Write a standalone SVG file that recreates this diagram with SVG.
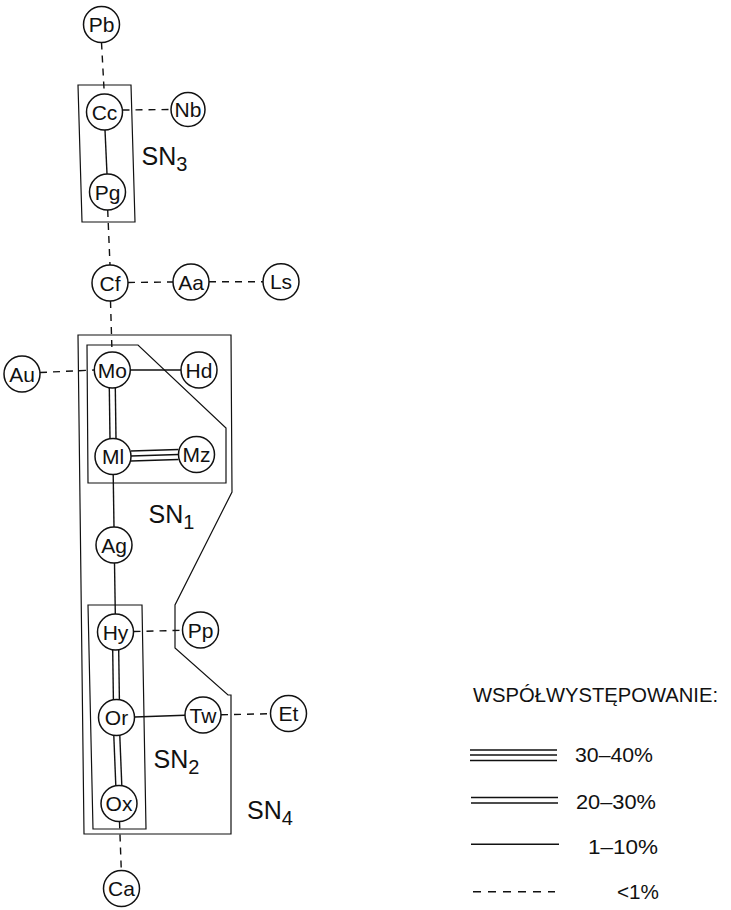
<svg xmlns="http://www.w3.org/2000/svg" width="731" height="910" viewBox="0 0 731 910">
<style>
.n circle{fill:#fff;stroke:#111;stroke-width:1.5}
.n text{font-family:"Liberation Sans",Arial,sans-serif;font-size:21px;text-anchor:middle;fill:#111}
.s{stroke:#111;stroke-width:1.4;fill:none}
.d{stroke:#111;stroke-width:1.4;fill:none;stroke-dasharray:7 6}
.b{stroke:#111;stroke-width:1.2;fill:none}
.lbl{font-family:"Liberation Sans",Arial,sans-serif;font-size:25px;fill:#111}
.lg{font-family:"Liberation Sans",Arial,sans-serif;font-size:20px;fill:#111}
</style>
<rect width="731" height="910" fill="#fff"/>
<g id="groups">
<polygon id="SN3-box" class="b" points="78,85 131,85 135,222 82,222"/>
<polygon id="SN4-box" class="b" points="78,335 231,335 232,492 175,605 175,648 228,695 231,695 231,834 84,834"/>
<polygon id="SN1-box" class="b" points="87,345 138,345 226,428 226,483 88,483"/>
<polygon id="SN2-box" class="b" points="88,605 142,605 146,829 93,829"/>
</g>
<g id="connectors">
<line class="d" x1="101.5" y1="42.5" x2="104.3" y2="94"/>
<line class="d" x1="122.5" y1="110" x2="170" y2="109.5"/>
<line class="s" x1="105" y1="130" x2="107" y2="174"/>
<line class="d" x1="107.7" y1="210" x2="110" y2="265"/>
<line class="d" x1="128" y1="282.5" x2="173" y2="282"/>
<line class="d" x1="209" y1="281.7" x2="263" y2="281.7"/>
<line class="d" x1="110.5" y1="301" x2="112" y2="352"/>
<line class="d" x1="40" y1="372.5" x2="94" y2="370"/>
<line class="s" x1="130.3" y1="370" x2="181" y2="370"/>
<line class="s" x1="109.3" y1="387.5" x2="110" y2="439"/>
<line class="s" x1="115.3" y1="387.5" x2="116" y2="439"/>
<line class="s" x1="131" y1="451" x2="178.5" y2="449.5"/>
<line class="s" x1="131" y1="456" x2="178.5" y2="454.5"/>
<line class="s" x1="131" y1="461" x2="178.5" y2="459.5"/>
<line class="s" x1="113.2" y1="474.5" x2="114" y2="527"/>
<line class="s" x1="114.5" y1="563" x2="115.3" y2="614"/>
<line class="d" x1="133.5" y1="631.5" x2="182.5" y2="630.3"/>
<line class="s" x1="112.7" y1="650" x2="113.4" y2="699.5"/>
<line class="s" x1="118.7" y1="650" x2="119.4" y2="699.5"/>
<line class="s" x1="134.5" y1="717" x2="185" y2="715.2"/>
<line class="d" x1="221" y1="714.8" x2="270.5" y2="713.7"/>
<line class="s" x1="113.8" y1="735.5" x2="115.8" y2="785.5"/>
<line class="s" x1="119.8" y1="735.5" x2="121.8" y2="785.5"/>
<line class="d" x1="119.5" y1="821.5" x2="121.3" y2="870.5"/>
</g>
<g id="Pb" class="n"><circle cx="101.5" cy="24.5" r="18"/><text x="101.5" y="32">Pb</text></g>
<g id="Cc" class="n"><circle cx="104.5" cy="112" r="18"/><text x="104.5" y="119.5">Cc</text></g>
<g id="Nb" class="n"><circle cx="188" cy="109.5" r="17"/><text x="188" y="117">Nb</text></g>
<g id="Pg" class="n"><circle cx="107.5" cy="192" r="18"/><text x="107.5" y="199.5">Pg</text></g>
<g id="Cf" class="n"><circle cx="110" cy="283" r="18"/><text x="110" y="290.5">Cf</text></g>
<g id="Aa" class="n"><circle cx="191" cy="282" r="18"/><text x="191" y="289.5">Aa</text></g>
<g id="Ls" class="n"><circle cx="281" cy="281.7" r="18"/><text x="281" y="289.2">Ls</text></g>
<g id="Au" class="n"><circle cx="22" cy="374" r="18"/><text x="22" y="381.5">Au</text></g>
<g id="Mo" class="n"><circle cx="112.3" cy="370" r="18"/><text x="112.3" y="377.5">Mo</text></g>
<g id="Hd" class="n"><circle cx="199" cy="370" r="18"/><text x="199" y="377.5">Hd</text></g>
<g id="Ml" class="n"><circle cx="113" cy="456.5" r="18"/><text x="113" y="464">Ml</text></g>
<g id="Mz" class="n"><circle cx="196.5" cy="454.5" r="18"/><text x="196.5" y="462">Mz</text></g>
<g id="Ag" class="n"><circle cx="114" cy="545" r="18"/><text x="114" y="552.5">Ag</text></g>
<g id="Hy" class="n"><circle cx="115.5" cy="632" r="18"/><text x="115.5" y="639.5">Hy</text></g>
<g id="Pp" class="n"><circle cx="200.5" cy="630" r="18"/><text x="200.5" y="637.5">Pp</text></g>
<g id="Or" class="n"><circle cx="116.5" cy="717.5" r="18"/><text x="116.5" y="725">Or</text></g>
<g id="Tw" class="n"><circle cx="203" cy="715" r="18"/><text x="203" y="722.5">Tw</text></g>
<g id="Et" class="n"><circle cx="288.5" cy="713.5" r="18"/><text x="288.5" y="721">Et</text></g>
<g id="Ox" class="n"><circle cx="119" cy="803.5" r="18"/><text x="119" y="811">Ox</text></g>
<g id="Ca" class="n"><circle cx="121.5" cy="888.5" r="18"/><text x="121.5" y="896">Ca</text></g>
<g id="labels">
<text class="lbl" x="141.5" y="165">SN<tspan font-size="20" dy="6">3</tspan></text>
<text class="lbl" x="148.5" y="523">SN<tspan font-size="20" dy="6">1</tspan></text>
<text class="lbl" x="153.5" y="768">SN<tspan font-size="20" dy="6">2</tspan></text>
<text class="lbl" x="247" y="819">SN<tspan font-size="20" dy="6">4</tspan></text>
</g>
<g id="legend">
<text class="lg" x="473" y="702" font-size="21" textLength="245" lengthAdjust="spacingAndGlyphs">WSPÓŁWYSTĘPOWANIE:</text>
<line class="s" x1="470" y1="750" x2="557" y2="750"/>
<line class="s" x1="470" y1="755" x2="557" y2="755"/>
<line class="s" x1="470" y1="760.5" x2="557" y2="760.5"/>
<text class="lg" x="575" y="761.5" textLength="78" lengthAdjust="spacingAndGlyphs">30–40%</text>
<line class="s" x1="471" y1="797.5" x2="558" y2="797.5"/>
<line class="s" x1="471" y1="803" x2="558" y2="803"/>
<text class="lg" x="576" y="808.5" textLength="80" lengthAdjust="spacingAndGlyphs">20–30%</text>
<line class="s" x1="471" y1="844.3" x2="559" y2="844.3"/>
<text class="lg" x="588" y="853.5" textLength="70" lengthAdjust="spacingAndGlyphs">1–10%</text>
<line class="s" x1="473" y1="891.7" x2="555" y2="891.7" stroke-dasharray="8 7"/>
<text class="lg" x="617" y="898.5" textLength="42" lengthAdjust="spacingAndGlyphs">&lt;1%</text>
</g>
</svg>
